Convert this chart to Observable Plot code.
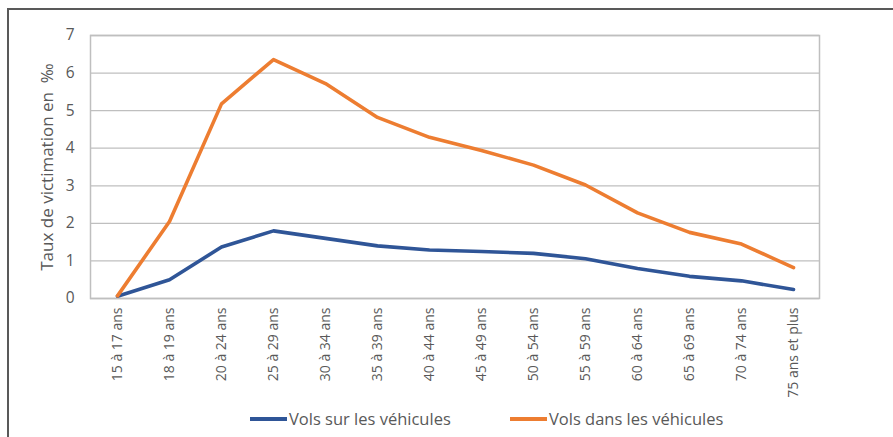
<!DOCTYPE html>
<html>
<head>
<meta charset="utf-8">
<script src="https://cdn.jsdelivr.net/npm/d3@7"></script>
<script src="https://cdn.jsdelivr.net/npm/@observablehq/plot@0.6"></script>
<style>
  html, body { margin: 0; padding: 0; background: #fff; }
  #wrap { position: relative; width: 893px; height: 437px; overflow: hidden; font-family: "Open Sans", sans-serif; }
  #border { position: absolute; left: 7px; top: 8px; right: -4px; bottom: -4px; border-top: 2px solid #595959; border-left: 2px solid #595959; }
  #chart { position: absolute; left: 0; top: 0; }
  #legend { position: absolute; top: 407px; left: 0; width: 893px; height: 26px; font-size: 16.5px; color: #595959; }
  .item { position: absolute; top: 0; display: flex; align-items: center; white-space: nowrap; }
  .sw { display: inline-block; width: 37px; height: 4px; margin-right: 2px; }
</style>
</head>
<body>
<div id="wrap">
  <div id="border"></div>
  <div id="chart"></div>
  <div id="legend">
    <div class="item" style="left:250px"><span class="sw" style="background:#2F5597"></span><span>Vols sur les véhicules</span></div>
    <div class="item" style="left:510px"><span class="sw" style="background:#ED7D31"></span><span>Vols dans les véhicules</span></div>
  </div>
</div>
<script>
const categories = ["15 à 17 ans","18 à 19 ans","20 à 24 ans","25 à 29 ans","30 à 34 ans","35 à 39 ans","40 à 44 ans","45 à 49 ans","50 à 54 ans","55 à 59 ans","60 à 64 ans","65 à 69 ans","70 à 74 ans","75 ans et plus"];
const volsSur = [0.06, 0.50, 1.37, 1.80, 1.60, 1.40, 1.29, 1.25, 1.20, 1.06, 0.80, 0.59, 0.47, 0.24];
const volsDans = [0.07, 2.05, 5.18, 6.36, 5.72, 4.82, 4.29, 3.94, 3.55, 3.02, 2.28, 1.76, 1.45, 0.82];
const seriesNames = ["Vols sur les véhicules", "Vols dans les véhicules"];
const seriesColors = ["#2F5597", "#ED7D31"];
const yTicks = [0, 1, 2, 3, 4, 5, 6, 7];

const data = [];
categories.forEach((c, i) => {
  data.push({cat: c, v: volsSur[i], s: seriesNames[0]});
});
categories.forEach((c, i) => {
  data.push({cat: c, v: volsDans[i], s: seriesNames[1]});
});

const chart = Plot.plot({
  width: 893,
  height: 400,
  marginLeft: 90,
  marginRight: 74,
  marginTop: 35,
  marginBottom: 102,
  style: {fontFamily: "'Open Sans', sans-serif", fontSize: "13px", color: "#595959", background: "transparent"},
  x: {type: "point", domain: categories, padding: 0.5, label: null},
  y: {domain: [0, 7], ticks: yTicks, label: null},
  color: {domain: seriesNames, range: seriesColors},
  marks: [
    Plot.gridY(yTicks, {stroke: "#bfbfbf", strokeOpacity: 1, strokeWidth: 1.3}),
    Plot.frame({stroke: "#bfbfbf", strokeWidth: 1.5}),
    Plot.axisY({ticks: yTicks, tickFormat: d3.format("d"), tickSize: 0, tickPadding: 16, fontSize: 15.5}),
    Plot.axisX({tickRotate: -90, tickSize: 0, tickPadding: 9, fontSize: 14}),
    Plot.line(data, {x: "cat", y: "v", z: "s", stroke: "s", strokeWidth: 3.6, strokeLinejoin: "round", strokeLinecap: "round"}),
    Plot.text(["Taux de victimation en  ‰"], {frameAnchor: "left", textAnchor: "middle", dx: -43, rotate: -90, fontSize: 17, fill: "#595959"})
  ]
});
document.getElementById("chart").appendChild(chart);
</script>
</body>
</html>
